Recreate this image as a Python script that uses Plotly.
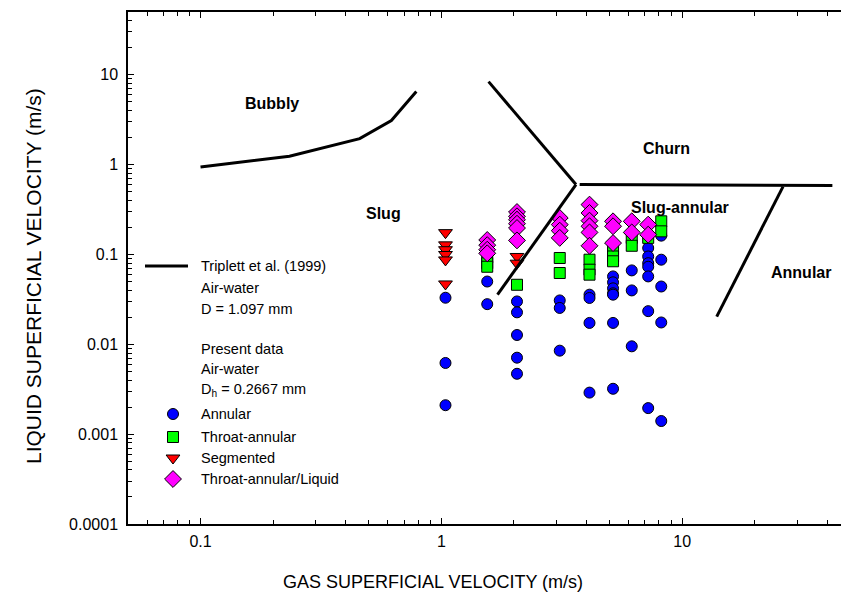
import math
import plotly.graph_objects as go

# ---- Present data: superficial velocities (m/s) by observed regime ----
annular_jg = [1.04, 1.04, 1.04,
              1.55, 1.55,
              2.06, 2.06, 2.06, 2.06, 2.06,
              3.1, 3.1, 3.1,
              4.12, 4.12, 4.12, 4.12,
              5.16, 5.16, 5.16, 5.16, 5.16, 5.16, 5.16,
              6.17, 6.17, 6.17,
              7.22, 7.22, 7.22, 7.22, 7.22, 7.22, 7.22,
              8.18, 8.18, 8.18, 8.18, 8.18]
annular_jf = [0.033, 0.0062, 0.0021,
              0.050, 0.028,
              0.030, 0.0227, 0.0127, 0.0071, 0.0047,
              0.0308, 0.0254, 0.0085,
              0.0357, 0.0328, 0.0173, 0.0029,
              0.057, 0.049, 0.042, 0.037, 0.0357, 0.0173, 0.0032,
              0.0665, 0.0398, 0.0095,
              0.118, 0.095, 0.080, 0.073, 0.057, 0.0234, 0.00195,
              0.162, 0.0875, 0.044, 0.0175, 0.0014]

throat_jg = [1.55, 1.55, 1.55,
             2.06,
             3.1, 3.1,
             4.12, 4.12, 4.12,
             5.16, 5.16, 5.16,
             6.17, 6.17,
             7.22,
             8.18, 8.18]
throat_jf = [0.093, 0.080, 0.073,
             0.046,
             0.0914, 0.0622,
             0.0875, 0.0677, 0.0596,
             0.113, 0.095, 0.084,
             0.153, 0.125,
             0.153,
             0.234, 0.181]

segmented_jg = [1.04, 1.04, 1.04, 1.04, 1.04, 1.04,
                2.06, 2.06]
segmented_jf = [0.175, 0.128, 0.113, 0.100, 0.087, 0.047,
                0.095, 0.080]

throat_liq_jg = [1.55, 1.55, 1.55, 1.55,
                 2.06, 2.06, 2.06, 2.06, 2.06, 2.06,
                 3.1, 3.1, 3.1, 3.1,
                 4.12, 4.12, 4.12, 4.12, 4.12, 4.12,
                 5.16, 5.16, 5.16,
                 6.17, 6.17,
                 7.22, 7.22]
throat_liq_jf = [0.145, 0.127, 0.113, 0.103,
                 0.297, 0.266, 0.244, 0.220, 0.197, 0.1435,
                 0.255, 0.215, 0.184, 0.153,
                 0.359, 0.290, 0.238, 0.206, 0.176, 0.125,
                 0.234, 0.206, 0.134,
                 0.234, 0.176,
                 0.215, 0.166]

# ---- Triplett et al. (1999) transition boundaries ----
bubbly_slug_jg = [0.1, 0.234, 0.458, 0.62, 0.787]
bubbly_slug_jf = [0.94, 1.24, 1.95, 3.1, 6.5]
slug_churn_jg = [1.57, 3.62]
slug_churn_jf = [8.4, 0.6]
slug_sa_jg = [1.71, 3.62]
slug_sa_jf = [0.0357, 0.6]
churn_sa_jg = [3.75, 42.0]
churn_sa_jf = [0.6, 0.585]
sa_annular_jg = [26.2, 13.9]
sa_annular_jf = [0.57, 0.0203]

x_ticks = [0.1, 1, 10]
x_ticktext = ["0.1", "1", "10"]
y_ticks = [0.0001, 0.001, 0.01, 0.1, 1, 10]
y_ticktext = ["0.0001", "0.001", "0.01", "0.1", "1", "10"]
x_minor = [m * 10.0 ** e for e in range(-2, 2) for m in range(2, 10)]
y_minor = [m * 10.0 ** e for e in range(-4, 2) for m in range(2, 10)]

FONT = "Liberation Sans, Arial, sans-serif"
W, H = 841, 603
L, R, T, B = 128, 0, 12, 79
PW, PH = W - L - R, H - T - B


def px_x(px):
    return (px - L) / PW


def px_y(py):
    return (H - B - py) / PH


fig = go.Figure()

edge = dict(color="black", width=1)
series = [
    (annular_jg, annular_jf, "circle", "#0000FF", 11),
    (throat_jg, throat_jf, "square", "#00FF00", 11),
    (segmented_jg, segmented_jf, "triangle-down", "#FF0000", 12),
    (throat_liq_jg, throat_liq_jf, "diamond", "#FF00FF", 13),
]
for xs, ys, sym, col, sz in series:
    fig.add_trace(go.Scatter(x=xs, y=ys, mode="markers",
                             marker=dict(symbol=sym, color=col, size=sz, line=edge),
                             showlegend=False))

for xs, ys in [(bubbly_slug_jg, bubbly_slug_jf), (slug_churn_jg, slug_churn_jf),
               (slug_sa_jg, slug_sa_jf), (churn_sa_jg, churn_sa_jf),
               (sa_annular_jg, sa_annular_jf)]:
    fig.add_trace(go.Scatter(x=xs, y=ys, mode="lines",
                             line=dict(color="black", width=3), showlegend=False))

# ---- key drawn on a pixel-unit overlay ----
key_x = 173
fig.add_trace(go.Scatter(x=[145, 188], y=[266, 266], mode="lines",
                         line=dict(color="black", width=3),
                         xaxis="x2", yaxis="y2", showlegend=False))
for (sym, col, sz), ky in zip([(s[2], s[3], s[4]) for s in series], [414, 437, 458, 479]):
    fig.add_trace(go.Scatter(x=[key_x], y=[ky], mode="markers",
                             marker=dict(symbol=sym, color=col, size=sz, line=edge),
                             xaxis="x2", yaxis="y2", showlegend=False))

key_text = [
    ("Triplett et al. (1999)", 266), ("Air-water", 288), ("D = 1.097 mm", 309),
    ("Present data", 349), ("Air-water", 369), ("D<sub>h</sub> = 0.2667 mm", 390),
    ("Annular", 414), ("Throat-annular", 437), ("Segmented", 458),
    ("Throat-annular/Liquid", 479),
]
annotations = []
for txt, ky in key_text:
    annotations.append(dict(x=199, y=ky, xref="x2", yref="y2", text=txt,
                            showarrow=False, xanchor="left", yanchor="middle",
                            font=dict(family=FONT, size=14.5, color="black")))

# regime labels (pixel positions on the overlay)
for txt, px, py in [("Bubbly", 272, 103), ("Churn", 666, 148), ("Slug", 383, 213),
                    ("Slug-annular", 680, 207), ("Annular", 801, 272)]:
    annotations.append(dict(x=px, y=py, xref="x2", yref="y2", text="<b>%s</b>" % txt,
                            showarrow=False, xanchor="center", yanchor="middle",
                            font=dict(family=FONT, size=16, color="black")))

# axis titles (paper coordinates, outside the plotting area)
annotations.append(dict(x=px_x(433), y=px_y(582), xref="paper", yref="paper",
                        text="GAS SUPERFICIAL VELOCITY (m/s)", showarrow=False,
                        xanchor="center", yanchor="middle",
                        font=dict(family=FONT, size=18, color="black")))
annotations.append(dict(x=px_x(33), y=px_y(276), xref="paper", yref="paper",
                        text="LIQUID SUPERFICIAL VELOCITY (m/s)", showarrow=False,
                        textangle=-90, xanchor="center", yanchor="middle",
                        font=dict(family=FONT, size=21, color="black")))

axis_common = dict(type="log", showline=True, linecolor="black", linewidth=1.5,
                   ticks="inside", ticklen=6, tickwidth=1, tickcolor="black",
                   showgrid=False, zeroline=False,
                   tickfont=dict(family=FONT, size=16, color="black"))

fig.update_layout(
    width=W, height=H,
    margin=dict(l=L, r=R, t=T, b=B),
    plot_bgcolor="white", paper_bgcolor="white",
    showlegend=False,
    xaxis=dict(axis_common, range=[math.log10(0.05), 1.659],
               tickmode="array", tickvals=x_ticks, ticktext=x_ticktext,
               minor=dict(ticks="inside", ticklen=4, tickwidth=1, tickcolor="black",
                          showgrid=False, tickmode="array", tickvals=x_minor),
               mirror="ticks", ticklabelstandoff=2),
    yaxis=dict(axis_common, range=[-4, math.log10(50)],
               tickmode="array", tickvals=y_ticks, ticktext=y_ticktext,
               minor=dict(ticks="inside", ticklen=4, tickwidth=1, tickcolor="black",
                          showgrid=False, tickmode="array", tickvals=y_minor),
               ticklabelstandoff=5),
    xaxis2=dict(overlaying="x", range=[L, W - R], visible=False, fixedrange=True),
    yaxis2=dict(overlaying="y", range=[H - B, T], visible=False, fixedrange=True),
    annotations=annotations,
)

fig.write_html("out.html")
